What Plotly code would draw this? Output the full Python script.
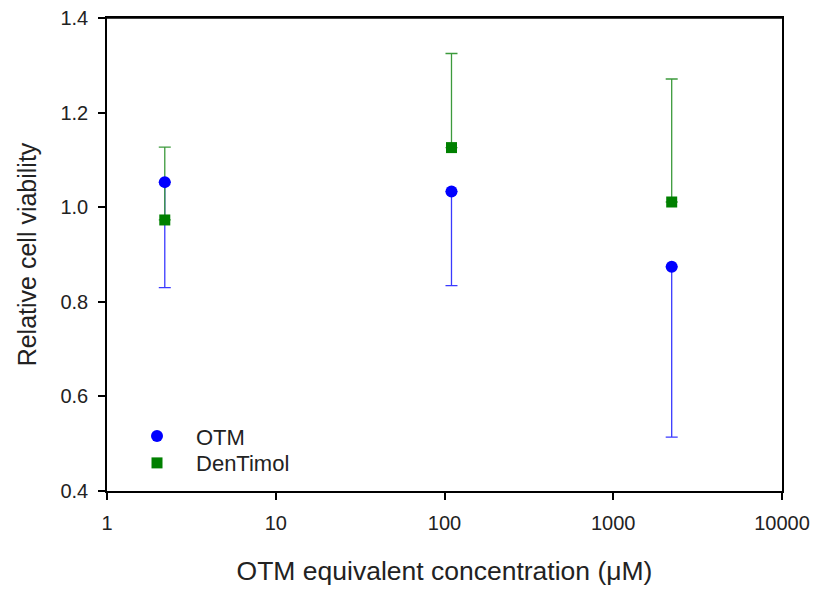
import plotly.graph_objects as go

conc = [2.2, 110, 2220]
otm_mean = [1.053, 1.033, 0.874]
otm_lower = [0.830, 0.834, 0.514]
den_mean = [0.973, 1.126, 1.011]
den_upper = [1.127, 1.325, 1.271]

otm_minus = [m - l for m, l in zip(otm_mean, otm_lower)]
den_plus = [u - m for m, u in zip(den_mean, den_upper)]
zeros = [0] * len(conc)

BLUE = "#0000ff"
GREEN = "#008000"
FONT = "Liberation Sans, Arial, sans-serif"
TXT = "#222222"

fig = go.Figure()
# error bars first (drawn beneath all markers)
fig.add_trace(go.Scatter(
    x=conc, y=otm_mean, mode="markers", showlegend=False, hoverinfo="skip",
    marker=dict(size=12, color="rgba(0,0,0,0)"),
    error_y=dict(type="data", symmetric=False, array=zeros, arrayminus=otm_minus,
                 color="#3a3aff", thickness=1.3, width=6)))
fig.add_trace(go.Scatter(
    x=conc, y=den_mean, mode="markers", showlegend=False, hoverinfo="skip",
    marker=dict(size=12, color="rgba(0,0,0,0)"),
    error_y=dict(type="data", symmetric=False, array=den_plus, arrayminus=zeros,
                 color="#3c9a3c", thickness=1.3, width=6)))
fig.add_trace(go.Scatter(
    x=conc, y=otm_mean, mode="markers", name="OTM", legend="legend",
    marker=dict(symbol="circle", size=12, color=BLUE)))
fig.add_trace(go.Scatter(
    x=conc, y=den_mean, mode="markers", name="DenTimol", legend="legend2",
    marker=dict(symbol="square", size=11, color=GREEN)))

axis_common = dict(
    showline=True, linecolor="black", linewidth=1.5, mirror=True,
    ticks="outside", ticklen=7, tickwidth=1.5, tickcolor="black",
    showgrid=False, zeroline=False, automargin=False,
    ticklabeloverflow="allow",
    tickfont=dict(family=FONT, size=20, color=TXT),
)

legend_common = dict(
    xanchor="left", yanchor="middle",
    bgcolor="rgba(0,0,0,0)", borderwidth=0,
    font=dict(family=FONT, size=22, color=TXT),
    itemwidth=68,
)

# page body has an 8px default margin, so the figure is sized to fit the window
fig.update_layout(
    width=811, height=581,
    margin=dict(l=99, r=37, t=10, b=98),
    paper_bgcolor="white", plot_bgcolor="white",
    font=dict(family=FONT, color=TXT),
    xaxis=dict(
        type="log", range=[0, 4],
        tickvals=[1, 10, 100, 1000, 10000],
        ticktext=["1", "10", "100", "1000", "10000"],
        ticklabelstandoff=6,
        title=dict(text="OTM equivalent concentration (μM)",
                   font=dict(family=FONT, size=26.5, color=TXT), standoff=29),
        **axis_common),
    yaxis=dict(
        range=[0.4, 1.4],
        tickvals=[0.4, 0.6, 0.8, 1.0, 1.2, 1.4],
        ticktext=["0.4", "0.6", "0.8", "1.0", "1.2", "1.4"],
        ticklabelstandoff=6,
        title=dict(text="Relative cell viability",
                   font=dict(family=FONT, size=25, color=TXT), standoff=17),
        **axis_common),
    legend=dict(x=0.0163, y=0.116, **legend_common),
    legend2=dict(x=0.0163, y=0.059, **legend_common),
    shapes=[dict(type="line", xref="paper", yref="paper", x0=0, x1=1, y0=1, y1=1,
                 line=dict(color="black", width=1.5), layer="above")],
)

fig.write_html("out.html", config={"displayModeBar": False})
